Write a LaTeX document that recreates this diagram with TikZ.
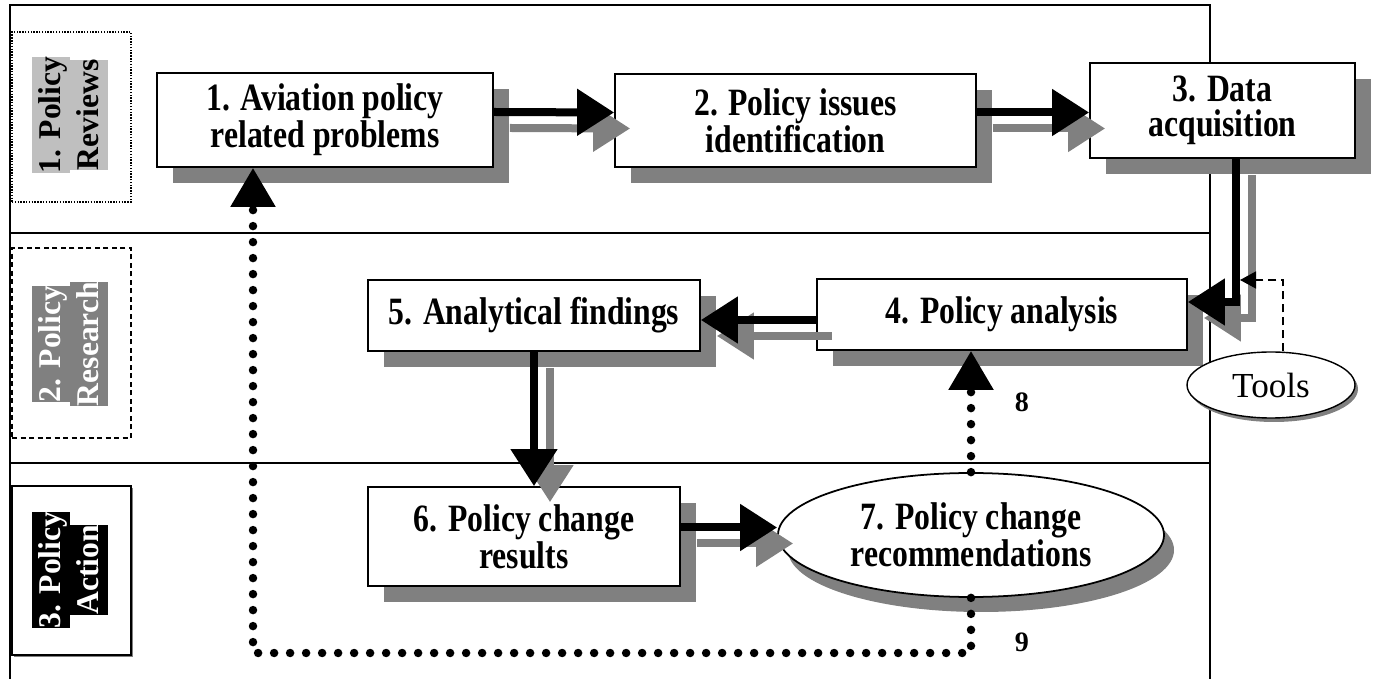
\documentclass[tikz,border=0pt]{standalone}
\usepackage{fontspec}
\setmainfont{Liberation Serif}
\newfontfamily\narrowserif{Liberation Serif}[FakeStretch=0.82]
\usetikzlibrary{arrows.meta,shapes.geometric,shadows}
\tikzset{
  stage/.style={draw,line width=1pt,fill=white,align=center,inner sep=3pt,
    font=\narrowserif\bfseries\fontsize{22}{20}\selectfont},
  stageshadow/.style={general shadow={fill=black!50,shadow xshift=0.32cm,shadow yshift=-0.32cm}},
  band/.style={draw,minimum width=2.38cm,line width=0.7pt},
  bandtxt/.style={rotate=90,inner xsep=0pt,inner ysep=0.04cm,text height=0.52cm,
    text depth=0.16cm,font=\bfseries\fontsize{18}{18}\selectfont},
  flow/.style={line width=0.16cm,-{Triangle[length=0.74cm,width=0.9cm]}},
  flowgray/.style={flow,color=black!50,transform canvas={shift={(0.32cm,-0.32cm)}}},
  loopline/.style={line width=0.17cm,line cap=round,dash pattern=on 0pt off 0.32cm,
    -{Triangle[length=0.78cm,width=0.86cm]}},
  toolline/.style={line width=0.8pt,dash pattern=on 0.16cm off 0.1cm,
    -{Triangle[length=0.32cm,width=0.34cm]}},
  numtxt/.style={font=\bfseries\fontsize{16}{16}\selectfont}
}

\begin{document}
\begin{tikzpicture}
\useasboundingbox (0,0) rectangle (27.54,-13.58);

% frame and the three bands
\draw[line width=1.2pt] (0.2,-13.58) -- (0.2,-0.1) -- (24.2,-0.1) -- (24.2,-13.58);
\draw[line width=1.2pt] (0.2,-4.66) -- (24.2,-4.66) (0.2,-9.26) -- (24.2,-9.26);

\node[band,dash pattern=on 0.8pt off 0.8pt,minimum height=3.4cm] (rev) at (1.43,-2.34) {};
\node[band,dash pattern=on 0.1cm off 0.07cm,minimum height=3.8cm] (res) at (1.43,-6.86) {};
\node[band,minimum height=3.38cm,fill=white,
  general shadow={fill=black!50,shadow xshift=0.04cm,shadow yshift=-0.04cm}] (act) at (1.43,-11.41) {};

\node[bandtxt,fill=black!25] (rev1) at (1.02,-2.3) {1. Policy};
\node[bandtxt,fill=black!25] (rev2) at (1.78,-2.3) {Reviews};
\node[bandtxt,fill=black!50,text=white] (res1) at (1.02,-6.88) {2. Policy};
\node[bandtxt,fill=black!50,text=white] (res2) at (1.78,-6.88) {Research};
\node[bandtxt,fill=black,text=white] (act1) at (1.02,-11.4) {3. Policy};
\node[bandtxt,fill=black,text=white] (act2) at (1.78,-11.4) {Action};

% process steps
\node[stage,stageshadow,minimum width=6.72cm,minimum height=1.88cm] (b1) at (6.5,-2.4) {1. Aviation policy\\related problems};
\node[stage,stageshadow,minimum width=7.22cm,minimum height=1.86cm] (b2) at (15.91,-2.41) {2. Policy issues\\identification};
\node[stage,stageshadow,minimum width=5.3cm,minimum height=1.9cm] (b3) at (24.45,-2.21) {3. Data\\acquisition};
\node[stage,stageshadow,minimum width=7.4cm,minimum height=1.42cm] (b4) at (20.04,-6.29) {4. Policy analysis};
\node[stage,stageshadow,minimum width=6.64cm,minimum height=1.42cm] (b5) at (10.68,-6.31) {5. Analytical findings};
\node[stage,stageshadow,minimum width=6.24cm,minimum height=1.98cm] (b6) at (10.48,-10.73) {6. Policy change\\results};
\node[stage,ellipse,minimum width=7.72cm,minimum height=2.48cm,
  general shadow={fill=black!50,shadow xshift=0.2cm,shadow yshift=-0.3cm}] (e7) at (19.42,-10.7) {7. Policy change\\recommendations};
\node[draw,ellipse,fill=white,line width=0.8pt,minimum width=3.36cm,minimum height=1.32cm,
  font=\fontsize{20}{20}\selectfont,
  general shadow={fill=black!50,shadow xshift=0.06cm,shadow yshift=-0.08cm}] (tools) at (25.42,-7.7) {Tools};

\coordinate (tap) at (24.8,-5.6);
\coordinate (loop) at (5.06,-13.06);

% arrows, grey copy underneath
\draw[flowgray] ([yshift=0.16cm]b1.east) -- ([yshift=0.16cm]b2.west);
\draw[flowgray] ([yshift=0.16cm]b2.east) -- ([yshift=0.16cm]b2.east -| b3.west);
\draw[flowgray] ([xshift=0.27cm]b3.south) |- ([yshift=0.25cm]b4.east);
\draw[flowgray] ([yshift=-0.11cm]b4.west) -- ([yshift=-0.11cm]b4.west -| b5.east);
\draw[flowgray] (b5.south) -- (b5.south |- b6.north);
\draw[flowgray] ([yshift=0.18cm]b6.east) -- ([yshift=0.18cm]b6.east -| e7.west);

\draw[flow] ([yshift=0.16cm]b1.east) -- ([yshift=0.16cm]b2.west);
\draw[flow] ([yshift=0.16cm]b2.east) -- ([yshift=0.16cm]b2.east -| b3.west);
\draw[flow] ([xshift=0.27cm]b3.south) |- ([yshift=0.25cm]b4.east);
\draw[flow] ([yshift=-0.11cm]b4.west) -- ([yshift=-0.11cm]b4.west -| b5.east);
\draw[flow] (b5.south) -- (b5.south |- b6.north);
\draw[flow] ([yshift=0.18cm]b6.east) -- ([yshift=0.18cm]b6.east -| e7.west);

\draw[toolline] ([xshift=0.24cm]tools.north) |- (tap);

% feedback loops
\draw[loopline] (e7.north) -- (e7.north |- b4.south);
\draw[loopline] (e7.south) |- (loop) -- ([xshift=-1.44cm]b1.south);

\node[numtxt] (n8) at (20.44,-8.04) {8};
\node[numtxt] (n9) at (20.44,-12.84) {9};
\end{tikzpicture}
\end{document}
